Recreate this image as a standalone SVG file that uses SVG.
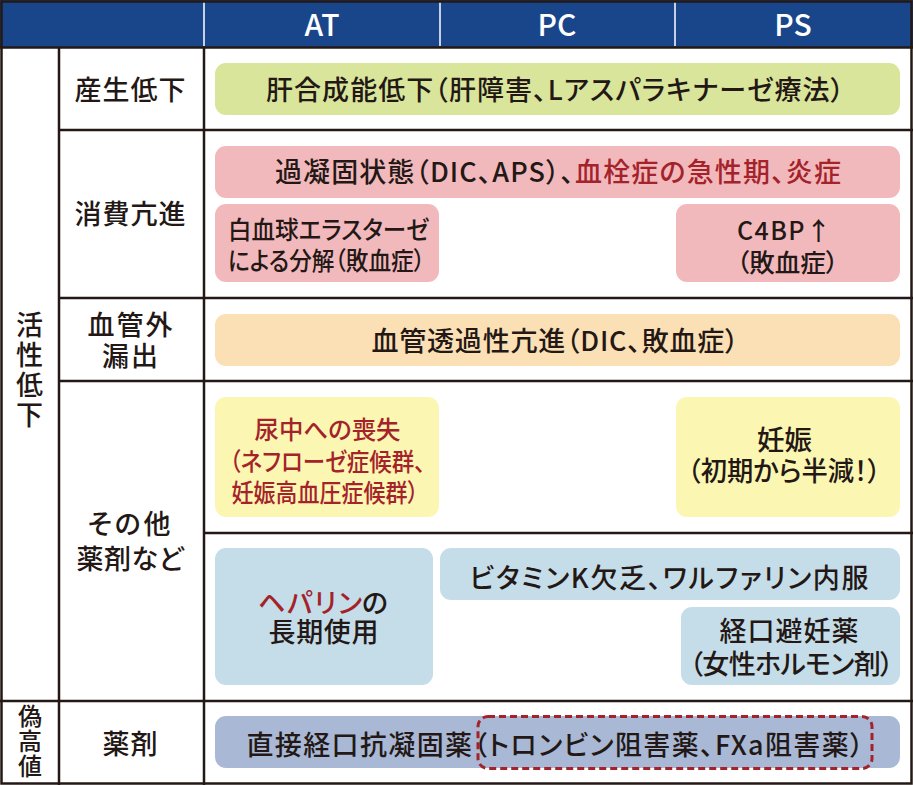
<svg xmlns="http://www.w3.org/2000/svg" width="913" height="785" viewBox="0 0 913 785">
<style>
text{font-family:"Noto Sans CJK JP","Noto Sans",sans-serif;fill:#231815;text-anchor:middle;font-size:27px;font-weight:500;font-feature-settings:"palt"}
.h{fill:#fff;font-size:30px;font-feature-settings:normal}
.m{font-size:25px}
.s{text-anchor:start}
.r{fill:#a4232b}
.v{writing-mode:vertical-rl;text-anchor:start}
.grid{stroke:#231815;stroke-width:2.5;fill:none}
.green{fill:#d9e59b}
.pink{fill:#f2b9bd}
.peach{fill:#fce0b5}
.yellow{fill:#fcf6b3}
.blue{fill:#c5dde9}
.navy{fill:#a8b8d5}
</style>
<rect x="0" y="0" width="913" height="785" fill="#fff"/>
<g id="header">
<rect x="0" y="0" width="913" height="47" fill="#19468b"/>
<line x1="204" y1="2" x2="204" y2="46" stroke="#fff" stroke-width="1.5"/>
<line x1="440" y1="2" x2="440" y2="46" stroke="#fff" stroke-width="1.5"/>
<line x1="675" y1="2" x2="675" y2="46" stroke="#fff" stroke-width="1.5"/>
<text class="h" x="322" y="36">AT</text>
<text class="h" x="557" y="36">PC</text>
<text class="h" x="793" y="36">PS</text>
</g>
<g id="grid">
<line class="grid" x1="0" y1="47.5" x2="913" y2="47.5"/>
<line class="grid" x1="59" y1="47" x2="59" y2="785"/>
<line class="grid" x1="204" y1="47" x2="204" y2="785"/>
<line class="grid" x1="59" y1="130" x2="913" y2="130"/>
<line class="grid" x1="59" y1="298" x2="913" y2="298"/>
<line class="grid" x1="59" y1="381" x2="913" y2="381"/>
<line class="grid" x1="204" y1="533" x2="913" y2="533"/>
<line class="grid" x1="0" y1="701" x2="913" y2="701"/>
<rect class="grid" x="1.5" y="1.5" width="910" height="782" stroke-width="3"/>
</g>
<g id="row-labels">
<text x="130" y="100" textLength="111" lengthAdjust="spacing">産生低下</text>
<text x="130" y="224" textLength="111" lengthAdjust="spacing">消費亢進</text>
<text><tspan x="130" y="335" textLength="85" lengthAdjust="spacing">血管外</tspan><tspan x="130" y="366" textLength="56" lengthAdjust="spacing">漏出</tspan></text>
<text><tspan x="129" y="534" textLength="83" lengthAdjust="spacing">その他</tspan><tspan x="130" y="569" textLength="107" lengthAdjust="spacing">薬剤など</tspan></text>
<text x="130" y="754" textLength="55" lengthAdjust="spacing">薬剤</text>
<text class="v" x="29.5" y="311" style="letter-spacing:3px">活性低下</text>
<text class="v" x="30" y="704" style="font-size:24px;letter-spacing:1px">偽高値</text>
</g>
<g id="n-liver">
<rect class="green" x="215" y="63" width="685" height="52" rx="11"/>
<text x="555" y="100" textLength="578" lengthAdjust="spacing">肝合成能低下（肝障害、Lアスパラキナーゼ療法）</text>
</g>
<g id="n-hyper">
<rect class="pink" x="215" y="146" width="685" height="52" rx="11"/>
<text class="s" x="275" y="182" textLength="299" lengthAdjust="spacing">過凝固状態（DIC、APS）、</text>
<text class="s r" x="575" y="182" textLength="266" lengthAdjust="spacing">血栓症の急性期、炎症</text>
</g>
<g id="n-elastase">
<rect class="pink" x="215" y="204" width="224" height="78" rx="11"/>
<text class="s m"><tspan x="228" y="239" textLength="201" lengthAdjust="spacingAndGlyphs">白血球エラスターゼ</tspan><tspan x="228" y="270" textLength="197" lengthAdjust="spacingAndGlyphs">による分解（敗血症）</tspan></text>
</g>
<g id="n-c4bp">
<rect class="pink" x="676" y="204" width="224" height="78" rx="11"/>
<text class="m"><tspan x="784" y="240" textLength="94" lengthAdjust="spacing">C4BP↑</tspan><tspan x="787.5" y="272" textLength="102" lengthAdjust="spacingAndGlyphs">（敗血症）</tspan></text>
</g>
<g id="n-vascular">
<rect class="peach" x="215" y="314" width="685" height="52" rx="11"/>
<text x="555" y="351" textLength="367" lengthAdjust="spacing">血管透過性亢進（DIC、敗血症）</text>
</g>
<g id="n-urine">
<rect class="yellow" x="215" y="397" width="224" height="120" rx="11"/>
<text class="r m"><tspan x="327.5" y="439" textLength="146" lengthAdjust="spacingAndGlyphs">尿中への喪失</tspan><tspan x="327.5" y="471" textLength="196" lengthAdjust="spacingAndGlyphs">（ネフローゼ症候群、</tspan><tspan x="325" y="502" textLength="187" lengthAdjust="spacingAndGlyphs">妊娠高血圧症候群）</tspan></text>
</g>
<g id="n-pregnancy">
<rect class="yellow" x="676" y="397" width="224" height="120" rx="11"/>
<text><tspan x="784.5" y="450" textLength="55" lengthAdjust="spacingAndGlyphs">妊娠</tspan><tspan x="784" y="481" textLength="193" lengthAdjust="spacingAndGlyphs">（初期から半減！）</tspan></text>
</g>
<g id="n-heparin">
<rect class="blue" x="215" y="548" width="218" height="137" rx="11"/>
<text><tspan class="r" x="258" y="613" textLength="104" lengthAdjust="spacing" style="text-anchor:start">ヘパリン</tspan><tspan x="362" y="613" textLength="27" lengthAdjust="spacing" style="text-anchor:start">の</tspan><tspan x="323.5" y="642" textLength="110" lengthAdjust="spacing">長期使用</tspan></text>
</g>
<g id="n-vitk">
<rect class="blue" x="440" y="548" width="460" height="52" rx="11"/>
<text x="669" y="588" textLength="399" lengthAdjust="spacing">ビタミンK欠乏、ワルファリン内服</text>
</g>
<g id="n-oc">
<rect class="blue" x="681" y="607" width="219" height="78" rx="11"/>
<text><tspan x="789" y="641" textLength="139" lengthAdjust="spacing">経口避妊薬</tspan><tspan x="791.5" y="674" textLength="204" lengthAdjust="spacing">（女性ホルモン剤）</tspan></text>
</g>
<g id="n-doac">
<rect class="navy" x="215" y="716" width="685" height="52" rx="11"/>
<text x="555" y="755" textLength="617" lengthAdjust="spacing">直接経口抗凝固薬（トロンビン阻害薬、FXa阻害薬）</text>
<rect x="478" y="716.5" width="394" height="52" rx="10" fill="none" stroke="#a4232b" stroke-width="3" stroke-dasharray="7 4"/>
</g>
</svg>
